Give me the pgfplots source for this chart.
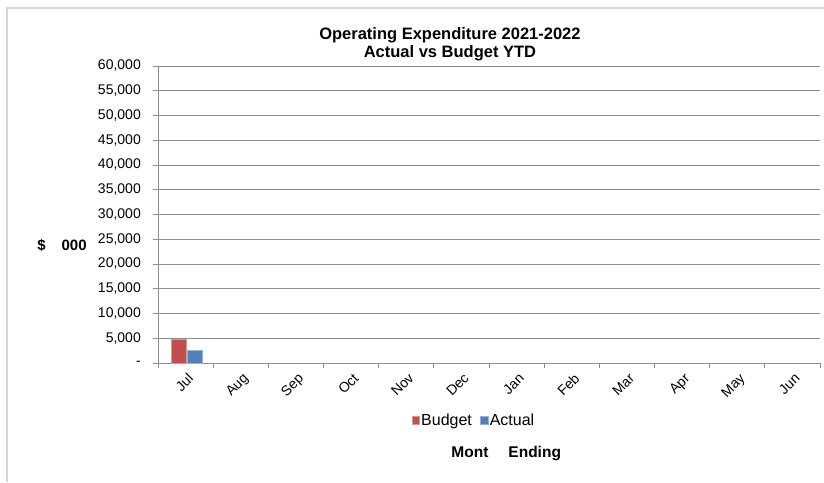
\documentclass[border=0pt]{standalone}
\usepackage{fontspec}
\setmainfont{Liberation Sans}
\usepackage{pgfplots}
\pgfplotsset{compat=1.18}
\definecolor{budget}{RGB}{192,80,77}
\definecolor{actual}{RGB}{79,129,189}
\definecolor{gridc}{RGB}{140,140,140}
\definecolor{framec}{RGB}{212,212,212}
\begin{document}
\begin{tikzpicture}[x=1pt,y=1pt]
\useasboundingbox (0,0) rectangle (824,482);
\fill[white] (0,0) rectangle (824,482);
\draw[line width=2pt, framec] (7,0) -- (7,474) -- (824,474);
\begin{axis}[
  at={(158pt,119pt)}, anchor=south west,
  scale only axis, width=662pt, height=297pt,
  xmin=-0.5, xmax=11.5, ymin=0, ymax=60000,
  scaled y ticks=false,
  axis lines*=left,
  axis line style={gridc, line width=0.8pt},
  ymajorgrids, grid style={gridc, line width=0.8pt},
  xtick={0,...,11},
  xticklabels={Jul,Aug,Sep,Oct,Nov,Dec,Jan,Feb,Mar,Apr,May,Jun},
  minor xtick={-0.5,0.5,...,11.5},
  ytick={0,5000,...,60000},
  yticklabels={-,{5,000},{10,000},{15,000},{20,000},{25,000},{30,000},{35,000},{40,000},{45,000},{50,000},{55,000},{60,000}},
  tick align=outside,
  major x tick style={draw=none},
  minor tick length=5pt,
  major tick length=5pt,
  tick style={gridc, line width=0.8pt},
  x tick label style={rotate=45, anchor=north east, font=\fontsize{14}{16}\selectfont, inner sep=1pt, yshift=-3pt, xshift=-1pt},
  y tick label style={font=\fontsize{14}{16}\selectfont, inner sep=1pt, xshift=-11pt},
  legend style={draw=none, at={(0.477,-0.195)}, anchor=center,
    font=\fontsize{16}{18}\selectfont, legend columns=2,
    /tikz/every even column/.append style={column sep=7pt},
    nodes={inner xsep=1.5pt},
    inner sep=0pt, legend cell align=left},
  legend image code/.code={\fill[#1] (1pt,-3pt) rectangle (8.5pt,4.5pt);},
  clip=false,
]
\addplot[ybar, bar width=15pt, bar shift=-7pt, fill=budget, draw=budget!60!white] coordinates {(0,4850)};
\addlegendentry{Budget}
\addplot[ybar, bar width=15pt, bar shift=9pt, fill=actual, draw=actual!60!white] coordinates {(0,2620)};
\addlegendentry{Actual}
\node[font=\bfseries\fontsize{16.5}{18.5}\selectfont, align=center] at (rel axis cs:0.441,1.073) {Operating Expenditure 2021-2022\\Actual vs Budget YTD};
\node[font=\bfseries\fontsize{15.5}{17}\selectfont] at (rel axis cs:0.526,-0.305) {Mont\hspace{20pt}Ending};
\node[font=\bfseries\fontsize{15}{17}\selectfont] at (rel axis cs:-0.145,0.397) {\$\hspace{16pt}000};
\end{axis}
\end{tikzpicture}
\end{document}
